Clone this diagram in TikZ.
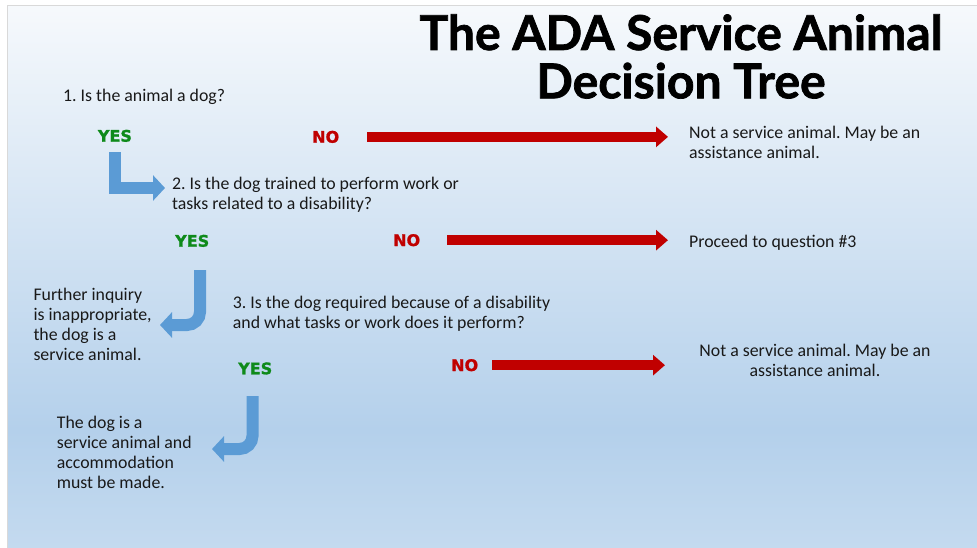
\documentclass[tikz,border=0pt]{standalone}
\usepackage{fontspec}
\setmainfont{Carlito}
\newfontfamily\titlefont{Lato}[BoldFeatures={FakeBold=1.5}]
\newfontfamily\markfont{DejaVu Sans}[BoldFeatures={FakeBold=1.2}]
\usetikzlibrary{arrows.meta}
\definecolor{yesgreen}{HTML}{0E8A1A}
\definecolor{nored}{HTML}{C00000}
\definecolor{arrowblue}{HTML}{5B9BD5}
\definecolor{bgtop}{HTML}{F6F9FC}
\definecolor{bgmid}{HTML}{B4D0EB}
\definecolor{bgbot}{HTML}{C4DAEF}
\frenchspacing
\begin{document}
\begin{tikzpicture}[x=1pt,y=-1pt,
    txt/.style={anchor=base west,inner sep=0pt,align=left,text=black!90,font=\fontsize{17.8}{20}\selectfont},
    yes/.style={anchor=base west,inner sep=0pt,text=yesgreen,font=\markfont\bfseries\fontsize{16}{18}\selectfont},
    no/.style={yes,text=nored},
    redarrow/.style={draw=nored,line width=10pt,-{Triangle[width=20pt,length=12pt]}},
    bluearrow/.style={draw=arrowblue,line width=12pt,-{Triangle[width=25pt,length=12pt]}}]
% background
\useasboundingbox (0,0) rectangle (977,548);
\fill[white] (0,0) rectangle (977,548);
\shade[top color=bgtop,bottom color=bgmid] (7,6) rectangle (977,430);
\shade[top color=bgmid,bottom color=bgbot] (7,430) rectangle (977,548);
\draw[black!15,line width=1pt] (7,548) -- (7,6) -- (977,6);
% title
\node[anchor=base,inner sep=0pt,font=\titlefont\bfseries\fontsize{48}{50}\selectfont] (title1) at (681,50) {The ADA Service Animal};
\node[anchor=base,inner sep=0pt,font=\titlefont\bfseries\fontsize{48}{50}\selectfont] (title2) at (681,98.3) {Decision Tree};
% question 1
\node[txt] (q1) at (63,101.7) {1. Is the animal a dog?};
\node[yes] (yes1) at (97.7,141.7) {YES};
\node[no] (no1) at (312,142.7) {NO};
\node[txt] (res1) at (689,158.3) {Not a service animal. May be an\\assistance animal.};
\coordinate (tip1) at (668,137);
\draw[redarrow,shorten <=28pt] (no1.east) -- (no1.east -| tip1);
% question 2
\node[txt] (q2) at (172,210) {2. Is the dog trained to perform work or\\tasks related to a disability?};
\coordinate (tipq2) at (165,188);
\draw[bluearrow,line join=miter,shorten <=10pt] (yes1.south) |- (tipq2);
\node[yes] (yes2) at (175,246.7) {YES};
\node[no] (no2) at (393,246) {NO};
\node[txt] (res2) at (689,247.3) {Proceed to question \#3};
\coordinate (tip2) at (668,240);
\draw[redarrow,shorten <=27pt] (no2.east) -- (no2.east -| tip2);
\node[txt] (further) at (33.3,360) {Further inquiry\\is inappropriate,\\the dog is a\\service animal.};
\coordinate (b2) at (200,270);
\coordinate (tipf) at (160,325);
\draw[bluearrow,rounded corners=13pt] (b2) |- (tipf);
% question 3
\node[txt] (q3) at (232.7,328.3) {3. Is the dog required because of a disability\\and what tasks or work does it perform?};
\node[yes] (yes3) at (238,374.3) {YES};
\node[no] (no3) at (451,371) {NO};
\node[txt,anchor=base,align=center] (res3) at (815,376) {Not a service animal. May be an\\assistance animal.};
\coordinate (tip3) at (665,364);
\draw[redarrow,shorten <=14pt] (no3.east) -- (no3.east -| tip3);
\node[txt] (dog) at (56.7,488.3) {The dog is a\\service animal and\\accommodation\\must be made.};
\coordinate (b3) at (252.5,396);
\coordinate (tipd) at (212,449);
\draw[bluearrow,rounded corners=13pt] (b3) |- (tipd);
\end{tikzpicture}
\end{document}
